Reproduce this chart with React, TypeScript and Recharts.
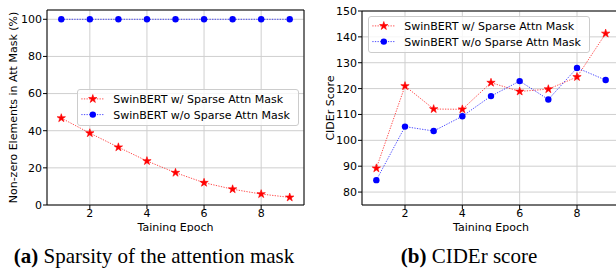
import { LineChart, Line, XAxis, YAxis, CartesianGrid, ReferenceLine, Legend } from "recharts";

const epochs = [1, 2, 3, 4, 5, 6, 7, 8, 9];
const sparseMaskPct = [46.8, 38.7, 31.1, 23.7, 17.4, 12.0, 8.5, 5.9, 4.1];
const denseMaskPct = [100, 100, 100, 100, 100, 100, 100, 100, 100];
const sparseCider = [89.2, 121.0, 112.1, 112.0, 122.3, 118.9, 119.8, 124.5, 141.3];
const denseCider = [84.6, 105.3, 103.6, 109.3, 117.1, 122.9, 115.8, 128.0, 123.3];

const xTicks = [2, 4, 6, 8];
const maskTicks = [0, 20, 40, 60, 80, 100];
const ciderTicks = [80, 90, 100, 110, 120, 130, 140, 150];

const sparseName = "SwinBERT w/ Sparse Attn Mask";
const denseName = "SwinBERT w/o Sparse Attn Mask";

const RED = "#ff0000";
const BLUE = "#0000ff";
const FONT = "'DejaVu Sans', sans-serif";

function starPath(cx: number, cy: number, R: number) {
  const r = R * 0.382;
  let d = "";
  for (let k = 0; k < 10; k++) {
    const a = ((-90 + k * 36) * Math.PI) / 180;
    const rad = k % 2 ? r : R;
    d += (k ? "L" : "M") + (cx + rad * Math.cos(a)).toFixed(2) + "," + (cy + rad * Math.sin(a)).toFixed(2);
  }
  return d + "Z";
}

const Star = ({ cx, cy }: { cx: number; cy: number }) => (
  <path d={starPath(cx, cy, 4.4)} fill={RED} stroke={RED} strokeWidth={0.6} />
);

const Dot = ({ cx, cy }: { cx: number; cy: number }) => <circle cx={cx} cy={cy} r={3.2} fill={BLUE} />;

function LegendBox() {
  const rows = [
    { name: sparseName, color: RED, star: true },
    { name: denseName, color: BLUE, star: false },
  ];
  return (
    <svg width={222} height={37} style={{ display: "block", fontFamily: FONT }}>
      <rect x={0.5} y={0.5} width={221} height={36} rx={2.5} fill="#fff" fillOpacity={0.8} stroke="#cccccc" />
      {rows.map((row, i) => {
        const y = 9.9 + i * 15.7;
        return (
          <g key={row.name}>
            <line x1={4.3} x2={27.3} y1={y} y2={y} stroke={row.color} strokeOpacity={0.7} strokeDasharray="1.3 1.3" />
            {row.star ? <Star cx={15.8} cy={y} /> : <Dot cx={15.8} cy={y} />}
            <text x={36.3} y={y + 4} fontSize={11} fill="#000">
              {row.name}
            </text>
          </g>
        );
      })}
    </svg>
  );
}

interface PanelProps {
  sparse: number[];
  dense: number[];
  yDomain: [number, number];
  yTicks: number[];
  yLabel: string;
  yAxisWidth: number;
  yLabelX: number;
  width: number;
  top: number;
  legendLeft: number;
  legendTop: number;
}

function Panel({ sparse, dense, yDomain, yTicks, yLabel, yAxisWidth, yLabelX, width, top, legendLeft, legendTop }: PanelProps) {
  const data = epochs.map((epoch, i) => ({ epoch, sparse: sparse[i], dense: dense[i] }));
  const tickStyle = { fontSize: 11, fill: "#000", fontFamily: FONT };
  return (
    <LineChart width={width} height={232} data={data} margin={{ top, right: 4, bottom: 0, left: 0 }}>
      <CartesianGrid stroke="#cfcfcf" strokeWidth={1} />
      <XAxis
        type="number"
        dataKey="epoch"
        domain={[0.5, 9.5]}
        ticks={xTicks}
        allowDataOverflow
        height={27}
        tickSize={4}
        tickMargin={0}
        tick={tickStyle}
        axisLine={{ stroke: "#000" }}
        tickLine={{ stroke: "#000" }}
        label={{ value: "Taining Epoch", position: "insideBottom", offset: 1.5, fontSize: 11, fill: "#000", fontFamily: FONT }}
      />
      <YAxis
        type="number"
        domain={yDomain}
        ticks={yTicks}
        allowDataOverflow
        width={yAxisWidth}
        tickSize={4}
        tickMargin={1}
        tick={tickStyle}
        axisLine={{ stroke: "#000" }}
        tickLine={{ stroke: "#000" }}
        label={{
          value: yLabel,
          angle: -90,
          position: "insideLeft",
          offset: yLabelX,
          fontSize: 11,
          fill: "#000",
          fontFamily: FONT,
          style: { textAnchor: "middle" },
        }}
      />
      <ReferenceLine y={yDomain[1]} stroke="#000" />
      <ReferenceLine x={9.5} stroke="#000" />
      <Legend
        layout="vertical"
        align="center"
        verticalAlign="middle"
        wrapperStyle={{ left: legendLeft, top: legendTop, width: 222 }}
        content={() => <LegendBox />}
      />
      <Line
        type="linear"
        dataKey="sparse"
        name={sparseName}
        stroke={RED}
        strokeOpacity={0.7}
        strokeWidth={1}
        strokeDasharray="1.3 1.3"
        dot={(p: any) => <Star key={`s${p.index}`} cx={p.cx} cy={p.cy} />}
        activeDot={false}
        isAnimationActive={false}
      />
      <Line
        type="linear"
        dataKey="dense"
        name={denseName}
        stroke={BLUE}
        strokeOpacity={0.7}
        strokeWidth={1}
        strokeDasharray="1.3 1.3"
        dot={(p: any) => <Dot key={`d${p.index}`} cx={p.cx} cy={p.cy} />}
        activeDot={false}
        isAnimationActive={false}
      />
    </LineChart>
  );
}

export default function App() {
  return (
    <div
      style={{
        position: "fixed",
        left: 0,
        top: 0,
        width: 616,
        height: 268,
        overflow: "hidden",
        background: "#fff",
        fontFamily: FONT,
      }}
    >
      <div style={{ position: "absolute", left: 0, top: 0 }}>
        <Panel
          sparse={sparseMaskPct}
          dense={denseMaskPct}
          yDomain={[0, 105]}
          yTicks={maskTicks}
          yLabel="Non-zero Elements in Att Mask (%)"
          yAxisWidth={47}
          yLabelX={13}
          width={308}
          top={10}
          legendLeft={77}
          legendTop={89}
        />
      </div>
      <div style={{ position: "absolute", left: 308, top: 0 }}>
        <Panel
          sparse={sparseCider}
          dense={denseCider}
          yDomain={[75, 150]}
          yTicks={ciderTicks}
          yLabel="CIDEr Score"
          yAxisWidth={54}
          yLabelX={21.7}
          width={316}
          top={11}
          legendLeft={60}
          legendTop={16}
        />
      </div>
      <svg width={616} height={268} style={{ position: "absolute", left: 0, top: 0, pointerEvents: "none" }}>
        <text x={154} y={263} textAnchor="middle" fontFamily="'Liberation Serif', 'Times New Roman', serif" fontSize={21} fill="#000">
          <tspan fontWeight="bold">(a)</tspan> Sparsity of the attention mask
        </text>
        <text x={469} y={263} textAnchor="middle" fontFamily="'Liberation Serif', 'Times New Roman', serif" fontSize={21} fill="#000">
          <tspan fontWeight="bold">(b)</tspan> CIDEr score
        </text>
      </svg>
    </div>
  );
}
